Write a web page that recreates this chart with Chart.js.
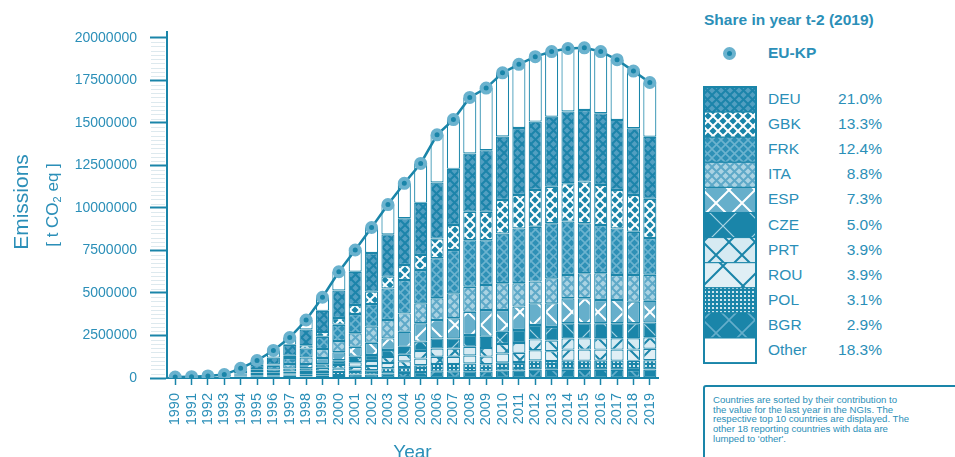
<!DOCTYPE html>
<html>
<head>
<meta charset="utf-8">
<script src="https://cdn.jsdelivr.net/npm/chart.js@4.4.1/dist/chart.umd.min.js"></script>
<style>
    html, body { margin: 0; padding: 0; background: #fff; overflow: hidden; }
    body { width: 955px; height: 457px; position: relative; font-family: "Liberation Sans", Arial, sans-serif; color: #2b8fb8; }
    #chartWrap { position: absolute; left: 0; top: 0; width: 690px; height: 464px; }
    #legendTitle { position: absolute; left: 704px; top: 11px; font-size: 15.5px; font-weight: bold; white-space: nowrap; }
    #kpDot { position: absolute; left: 723px; top: 47px; width: 5px; height: 5px; border-radius: 50%; background: #1a85a9; border: 4px solid #6ab2ce; }
    #kpLabel { position: absolute; left: 768px; top: 44px; font-size: 15.5px; font-weight: bold; }
    #swatches { position: absolute; left: 703px; top: 86px; }
    .lg { position: absolute; left: 768px; width: 114px; font-size: 15.5px; height: 25px; line-height: 25px; }
    .lg span { position: absolute; right: 0; top: 0; }
    #note { position: absolute; left: 703px; top: 385px; width: 270px; height: 90px; border: 2px solid #1a85a9; border-radius: 3px; box-sizing: border-box; }
    #note div { padding: 8px 0 0 8px; font-size: 9.6px; line-height: 9.7px; white-space: nowrap; }
</style>
</head>
<body>
<div id="chartWrap"><canvas id="emissionsChart"></canvas></div>

<div id="legendTitle">Share in year t-2 (2019)</div>
<div id="kpDot"></div>
<div id="kpLabel">EU-KP</div>
<canvas id="swatches" width="54" height="278"></canvas>
<div id="legendRows"></div>
<div id="note"><div>Countries are sorted by their contribution to<br>the value for the last year in the NGIs. The<br>respective top 10 countries are displayed. The<br>other 18 reporting countries with data are<br>lumped to 'other'.</div></div>

<script>
// Data (values in t CO2 eq, millions)
const years = ['1990','1991','1992','1993','1994','1995','1996','1997','1998','1999',
               '2000','2001','2002','2003','2004','2005','2006','2007','2008','2009',
               '2010','2011','2012','2013','2014','2015','2016','2017','2018','2019'];

const euKp = [0.06, 0.08, 0.12, 0.2, 0.57, 1.03, 1.62, 2.38, 3.41, 4.75,
              6.25, 7.53, 8.85, 10.2, 11.45, 12.62, 14.3, 15.2, 16.5, 17.05,
              17.95, 18.45, 18.9, 19.2, 19.38, 19.42, 19.2, 18.72, 18.05, 17.38];

const deu = [0.02, 0.03, 0.04, 0.06, 0.15, 0.26, 0.4, 0.64, 0.92, 1.25,
             1.62, 1.96, 2.27, 2.49, 2.75, 3.06, 3.3, 3.3, 3.42, 3.62,
             3.73, 3.94, 4.02, 4.12, 4.23, 4.21, 4.22, 4.12, 3.93, 3.65];
const gbk = [0.003, 0.004, 0.006, 0.01, 0.03, 0.05, 0.08, 0.13, 0.2, 0.28,
             0.4, 0.53, 0.73, 0.69, 0.89, 0.89, 1.16, 1.47, 1.68, 1.68,
             1.97, 1.96, 2.16, 2.15, 2.25, 2.45, 2.35, 2.26, 2.16, 2.31];
const frk = [0.01, 0.012, 0.018, 0.03, 0.08, 0.14, 0.22, 0.36, 0.52, 0.72,
             0.95, 1.13, 1.33, 1.86, 1.96, 1.96, 2.35, 2.55, 2.73, 2.63,
             2.93, 3.23, 3.23, 3.24, 3.14, 2.94, 2.84, 2.74, 2.54, 2.16];
const ita = [0.006, 0.008, 0.012, 0.02, 0.06, 0.1, 0.16, 0.26, 0.38, 0.52,
             0.66, 0.79, 0.95, 1.08, 1.08, 1.17, 1.28, 1.47, 1.47, 1.47,
             1.57, 1.37, 1.28, 1.47, 1.37, 1.47, 1.57, 1.47, 1.57, 1.53];
const esp = [0.004, 0.006, 0.008, 0.014, 0.04, 0.07, 0.11, 0.18, 0.26, 0.37,
             0.48, 0.59, 0.72, 0.68, 0.88, 1.08, 1.08, 1.18, 1.37, 1.57,
             1.28, 1.38, 1.27, 1.39, 1.47, 1.47, 1.37, 1.37, 1.27, 1.27];
const cze = [0.002, 0.003, 0.004, 0.01, 0.025, 0.045, 0.065, 0.1, 0.15, 0.21,
             0.27, 0.32, 0.35, 0.42, 0.47, 0.55, 0.6, 0.6, 0.69, 0.67,
             0.72, 0.76, 0.85, 0.8, 0.89, 0.89, 0.88, 0.88, 0.88, 0.87];
const prt = [0.002, 0.002, 0.003, 0.008, 0.02, 0.035, 0.05, 0.08, 0.12, 0.17,
             0.22, 0.27, 0.29, 0.35, 0.39, 0.45, 0.48, 0.48, 0.52, 0.5,
             0.56, 0.58, 0.64, 0.62, 0.66, 0.66, 0.67, 0.67, 0.67, 0.68];
const rou = [0.001, 0.002, 0.003, 0.006, 0.015, 0.03, 0.04, 0.07, 0.11, 0.15,
             0.19, 0.23, 0.25, 0.3, 0.34, 0.39, 0.42, 0.42, 0.47, 0.45,
             0.52, 0.54, 0.6, 0.58, 0.65, 0.65, 0.65, 0.65, 0.66, 0.68];
const pol = [0.001, 0.002, 0.003, 0.006, 0.016, 0.027, 0.04, 0.07, 0.1, 0.15,
             0.19, 0.23, 0.25, 0.31, 0.34, 0.4, 0.44, 0.44, 0.45, 0.43,
             0.48, 0.5, 0.53, 0.52, 0.54, 0.54, 0.54, 0.54, 0.54, 0.54];
const bgr = [0.001, 0.001, 0.003, 0.006, 0.014, 0.023, 0.035, 0.06, 0.09, 0.13,
             0.17, 0.2, 0.21, 0.27, 0.3, 0.35, 0.39, 0.39, 0.4, 0.38,
             0.44, 0.44, 0.5, 0.48, 0.48, 0.48, 0.48, 0.48, 0.47, 0.5];
const other = [0.01, 0.01, 0.02, 0.03, 0.12, 0.25, 0.42, 0.43, 0.56, 0.8,
               1.1, 1.28, 1.5, 1.75, 2.05, 2.32, 2.8, 2.9, 3.3, 3.65,
               3.75, 3.75, 3.82, 3.83, 3.7, 3.66, 3.63, 3.54, 3.36, 3.19];

const shareLabels = ['DEU', 'GBK', 'FRK', 'ITA', 'ESP', 'CZE', 'PRT', 'ROU', 'POL', 'BGR', 'Other'];
const shareValues = ['21.0%', '13.3%', '12.4%', '8.8%', '7.3%', '5.0%', '3.9%', '3.9%', '3.1%', '2.9%', '18.3%'];
const yTicks = [0, 2500000, 5000000, 7500000, 10000000, 12500000, 15000000, 17500000, 20000000];

const M = 1000000;
const toT = arr => arr.map(v => Math.round(v * M));

const lineCol = '#1a85a9';
const textCol = '#2b8fb8';
const fontFam = '"Liberation Sans", Arial, sans-serif';

// pattern helpers
const patCtx = document.createElement('canvas').getContext('2d');
function makePattern(bg, size, draw) {
    const c = document.createElement('canvas');
    c.width = size; c.height = size;
    const g = c.getContext('2d');
    g.fillStyle = bg;
    g.fillRect(0, 0, size, size);
    draw(g, size);
    return patCtx.createPattern(c, 'repeat');
}
function crossLines(color, width) {
    return function(g, s) {
        g.strokeStyle = color;
        g.lineWidth = width;
        for (const dx of [-s, 0, s]) {
            g.beginPath();
            g.moveTo(dx, 0); g.lineTo(dx + s, s);
            g.moveTo(dx + s, 0); g.lineTo(dx, s);
            g.stroke();
        }
    };
}
function dots(color, r) {
    return function(g, s) {
        g.fillStyle = color;
        g.beginPath();
        g.arc(s / 2, s / 2, r, 0, Math.PI * 2);
        g.fill();
    };
}

const patterns = {
    DEU: makePattern('#529fc1', 9, crossLines('#1c84aa', 2)),
    GBK: makePattern('#1a85a9', 10, crossLines('#ffffff', 2)),
    FRK: makePattern('#2e90b6', 9, crossLines('#6cb3cf', 1.6)),
    ITA: makePattern('#aad3e3', 9, crossLines('#5ea9c8', 2)),
    ESP: makePattern('#66afcb', 26, crossLines('#ffffff', 2)),
    CZE: makePattern('#1a85a9', 40, crossLines('#a9d3e3', 1.2)),
    PRT: makePattern('#d6eaf2', 26, crossLines('#1a85a9', 2)),
    ROU: makePattern('#e0eff5', 40, crossLines('#1a85a9', 2)),
    POL: makePattern('#1a85a9', 4, dots('#ffffff', 1.1)),
    BGR: makePattern('#1a85a9', 26, crossLines('#65aecb', 1.6)),
    Other: '#ffffff'
};

const barSeries = [
    ['BGR', bgr], ['POL', pol], ['ROU', rou], ['PRT', prt], ['CZE', cze],
    ['ESP', esp], ['ITA', ita], ['FRK', frk], ['GBK', gbk], ['DEU', deu], ['Other', other]
];

const datasets = [{
    type: 'line',
    label: 'EU-KP',
    data: toT(euKp),
    stack: 'total',
    order: 0,
    borderColor: lineCol,
    borderWidth: 2.5,
    tension: 0,
    pointRadius: 4.5,
    pointBackgroundColor: lineCol,
    pointBorderColor: '#6ab2ce',
    pointBorderWidth: 4
}];
barSeries.forEach(([name, arr]) => {
    datasets.push({
        type: 'bar',
        label: name,
        data: toT(arr),
        stack: 'countries',
        order: 1,
        backgroundColor: patterns[name],
        borderColor: lineCol,
        borderWidth: 1.2,
        borderSkipped: false,
        barPercentage: 0.8,
        categoryPercentage: 1
    });
});

// y axis title with subscript, plus light minor ticks
const extras = {
    id: 'extras',
    afterDraw(chart) {
        const ctx = chart.ctx;
        const y = chart.scales.y;
        ctx.save();
        ctx.strokeStyle = '#dde9ee';
        ctx.lineWidth = 1;
        for (let v = 250000; v < 20000000; v += 250000) {
            if (v % 2500000 === 0) continue;
            const py = Math.round(y.getPixelForValue(v)) + 0.5;
            ctx.beginPath();
            ctx.moveTo(151, py);
            ctx.lineTo(165, py);
            ctx.stroke();
        }
        ctx.fillStyle = textCol;
        ctx.textBaseline = 'middle';
        ctx.textAlign = 'center';
        ctx.translate(22, 202);
        ctx.rotate(-Math.PI / 2);
        ctx.font = '21px ' + fontFam;
        ctx.fillText('Emissions', 0, 0);
        ctx.restore();

        ctx.save();
        ctx.fillStyle = textCol;
        ctx.textBaseline = 'middle';
        ctx.translate(53, 205);
        ctx.rotate(-Math.PI / 2);
        const big = '17px ' + fontFam, small = '11px ' + fontFam;
        ctx.font = big;
        const a = '[ t CO', b = '2', c = ' eq ]';
        const wa = ctx.measureText(a).width, wc = ctx.measureText(c).width;
        ctx.font = small;
        const wb = ctx.measureText(b).width;
        let x = -(wa + wb + wc) / 2;
        ctx.font = big;
        ctx.fillText(a, x, 0);
        ctx.font = small;
        ctx.fillText(b, x + wa, 5);
        ctx.font = big;
        ctx.fillText(c, x + wa + wb, 0);
        ctx.restore();
    }
};

new Chart(document.getElementById('emissionsChart'), {
    data: { labels: years, datasets: datasets },
    options: {
        responsive: true,
        maintainAspectRatio: false,
        animation: false,
        layout: { padding: { top: 32, right: 32, left: 0, bottom: 0 } },
        plugins: { legend: { display: false }, tooltip: { enabled: false } },
        scales: {
            x: {
                stacked: true,
                offset: true,
                grid: { display: true, offset: false, drawOnChartArea: false, tickLength: 7, tickColor: lineCol, tickWidth: 1.5 },
                border: { color: lineCol, width: 2 },
                ticks: { color: textCol, font: { size: 14.5, family: fontFam }, minRotation: 90, maxRotation: 90, autoSkip: false, padding: 8 },
                title: { display: true, text: 'Year', color: textCol, font: { size: 19, family: fontFam }, padding: { top: 0, bottom: 0 } },
                afterFit: s => { s.height = 86; }
            },
            y: {
                stacked: true,
                min: 0,
                max: 20350000,
                afterBuildTicks: axis => { axis.ticks = yTicks.map(v => ({ value: v })); },
                ticks: { color: textCol, font: { size: 14, family: fontFam }, padding: 13, callback: v => String(v) },
                grid: { drawOnChartArea: false, tickLength: 17, tickColor: lineCol, tickWidth: 2 },
                border: { color: lineCol, width: 2 },
                afterFit: s => { s.width = 167; }
            }
        }
    },
    plugins: [extras]
});

// legend swatches and rows
const sw = document.getElementById('swatches').getContext('2d');
const rowH = 25.1;
shareLabels.forEach((name, i) => {
    const top = 1 + i * rowH;
    sw.fillStyle = patterns[name];
    sw.fillRect(1, top, 52, rowH);
    sw.strokeStyle = lineCol;
    sw.lineWidth = 1;
    sw.strokeRect(1, top, 52, rowH);
    const row = document.createElement('div');
    row.className = 'lg';
    row.style.top = (86 + i * rowH) + 'px';
    row.innerHTML = name + '<span>' + shareValues[i] + '</span>';
    document.getElementById('legendRows').appendChild(row);
});
sw.lineWidth = 2;
sw.strokeStyle = lineCol;
sw.strokeRect(1, 1, 52, rowH * shareLabels.length);
</script>
</body>
</html>
